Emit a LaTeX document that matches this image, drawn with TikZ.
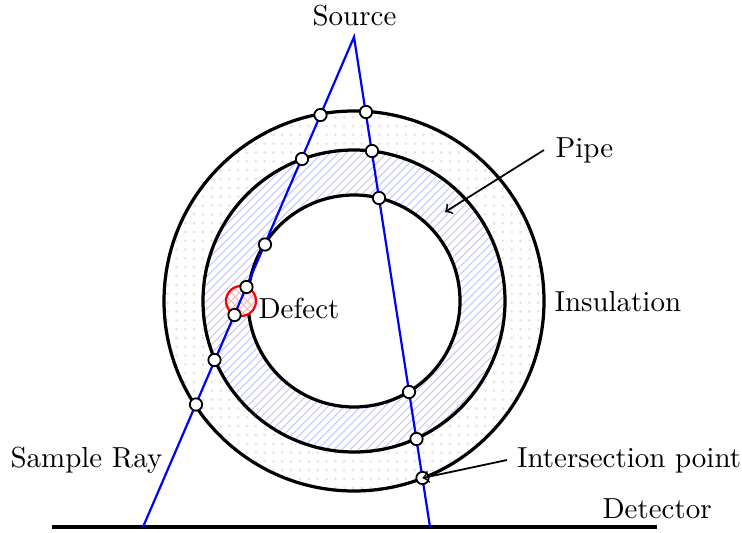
\documentclass[tikz,border=0pt]{standalone}
\usetikzlibrary{patterns,patterns.meta}
\tikzset{
  ring/.style={line width=1.1pt,black},
  ray/.style={line width=.75pt,blue},
  pt/.style={circle,draw=black,fill=white,line width=.6pt,inner sep=0pt,minimum size=4.2pt},
  lbl/.style={inner sep=0pt,anchor=base west,scale=.985},
  callout/.style={line width=.6pt,black,->},
}
\begin{document}
\begin{tikzpicture}[x=.34pt,y=-.34pt]
\useasboundingbox (0,0) rectangle (742,532);
\coordinate (c) at (354,301);
\coordinate (d) at (241,301);
% fills
\path[even odd rule,pattern=dots,pattern color=gray!22]
  (c) circle[radius=64.6pt] (c) circle[radius=51.34pt];
\path[even odd rule,pattern={Lines[angle=45,distance=1.95pt,line width=.3pt]},pattern color=blue!25]
  (c) circle[radius=51.34pt] (c) circle[radius=36.04pt];
% rings
\draw[ring] (c) circle[radius=64.6pt];
\draw[ring] (c) circle[radius=51.34pt];
\draw[ring] (c) circle[radius=36.04pt];
% defect
\path[fill=white] (d) circle[radius=5.1pt];
\path[pattern={Lines[angle=45,distance=1.95pt,line width=.3pt]},pattern color=red!30] (d) circle[radius=5.1pt];
\path[pattern={Lines[angle=-45,distance=1.95pt,line width=.3pt]},pattern color=red!30] (d) circle[radius=5.1pt];
\draw[red,line width=.75pt] (d) circle[radius=5.1pt];
% detector
\coordinate (detL) at (52,527);
\coordinate (detR) at (657,527);
\draw[ring] (detL) -- (detR);
% labels
\node[lbl,anchor=base] (source) at (354.5,26) {Source};
\node[lbl] (pipe) at (555,157) {Pipe};
\node[lbl] (insul) at (554,311) {Insulation};
\node[lbl] (defect) at (258,318) {Defect};
\node[lbl] (sample) at (10,467) {Sample Ray};
\node[lbl] (inter) at (516.5,467) {Intersection point};
\node[lbl] (detector) at (602,518) {Detector};
% rays
\coordinate (apex) at (354,37);
\coordinate (rayL) at (143,527);
\coordinate (rayR) at (430,527);
\draw[ray] (rayL) -- (apex) -- (rayR);
% intersections
\node[pt] (a1) at (320.5,115) {};
\node[pt] (a2) at (302,159) {};
\node[pt] (a3) at (265,244.5) {};
\node[pt] (a4) at (246.5,287) {};
\node[pt] (a5) at (234.5,315) {};
\node[pt] (a6) at (214.5,360) {};
\node[pt] (a7) at (196,404.5) {};
\node[pt] (b1) at (366,112) {};
\node[pt] (b2) at (372,151) {};
\node[pt] (b3) at (379,198) {};
\node[pt] (b4) at (409,392) {};
\node[pt] (b5) at (416.5,439) {};
\node[pt] (b6) at (422.5,478) {};
% callouts
\coordinate (pipeS) at (544,150);
\coordinate (pipeE) at (445,212);
\coordinate (intS) at (507,460);
\draw[callout] (pipeS) -- (pipeE);
\draw[callout] (intS) -- (b6.center);
\end{tikzpicture}
\end{document}
